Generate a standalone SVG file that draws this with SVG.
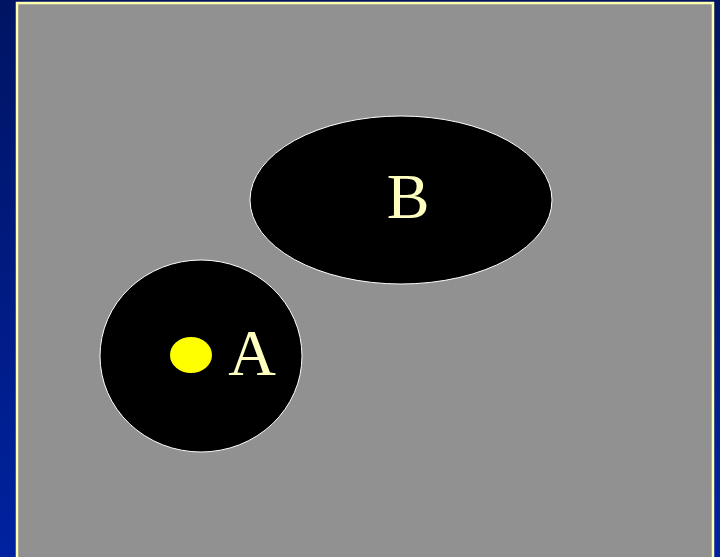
<svg xmlns="http://www.w3.org/2000/svg" width="720" height="557" viewBox="0 0 720 557">
<defs>
<linearGradient id="bg" x1="0" y1="0" x2="0" y2="1">
<stop offset="0" stop-color="#001463"/>
<stop offset="1" stop-color="#0022a0"/>
</linearGradient>
<style>
.node{fill:#000;stroke:#fff;stroke-width:1}
.lbl{font-family:'Liberation Serif','Times New Roman',Times,serif;fill:#ffffc0;text-anchor:middle}
</style>
</defs>
<rect width="720" height="557" fill="url(#bg)"/>
<rect x="17" y="3" width="696" height="570" fill="#919191" stroke="#ffffb0" stroke-width="2.5"/>
<g id="B">
<ellipse class="node" cx="401" cy="200" rx="151" ry="84"/>
<text class="lbl" x="408" y="218" font-size="64">B</text>
</g>
<g id="A">
<ellipse class="node" cx="201" cy="356" rx="101" ry="96"/>
<ellipse cx="191" cy="355" rx="21" ry="18" fill="#ffff00"/>
<text class="lbl" x="252" y="375" font-size="66">A</text>
</g>
<g id="connectors"/>
</svg>
